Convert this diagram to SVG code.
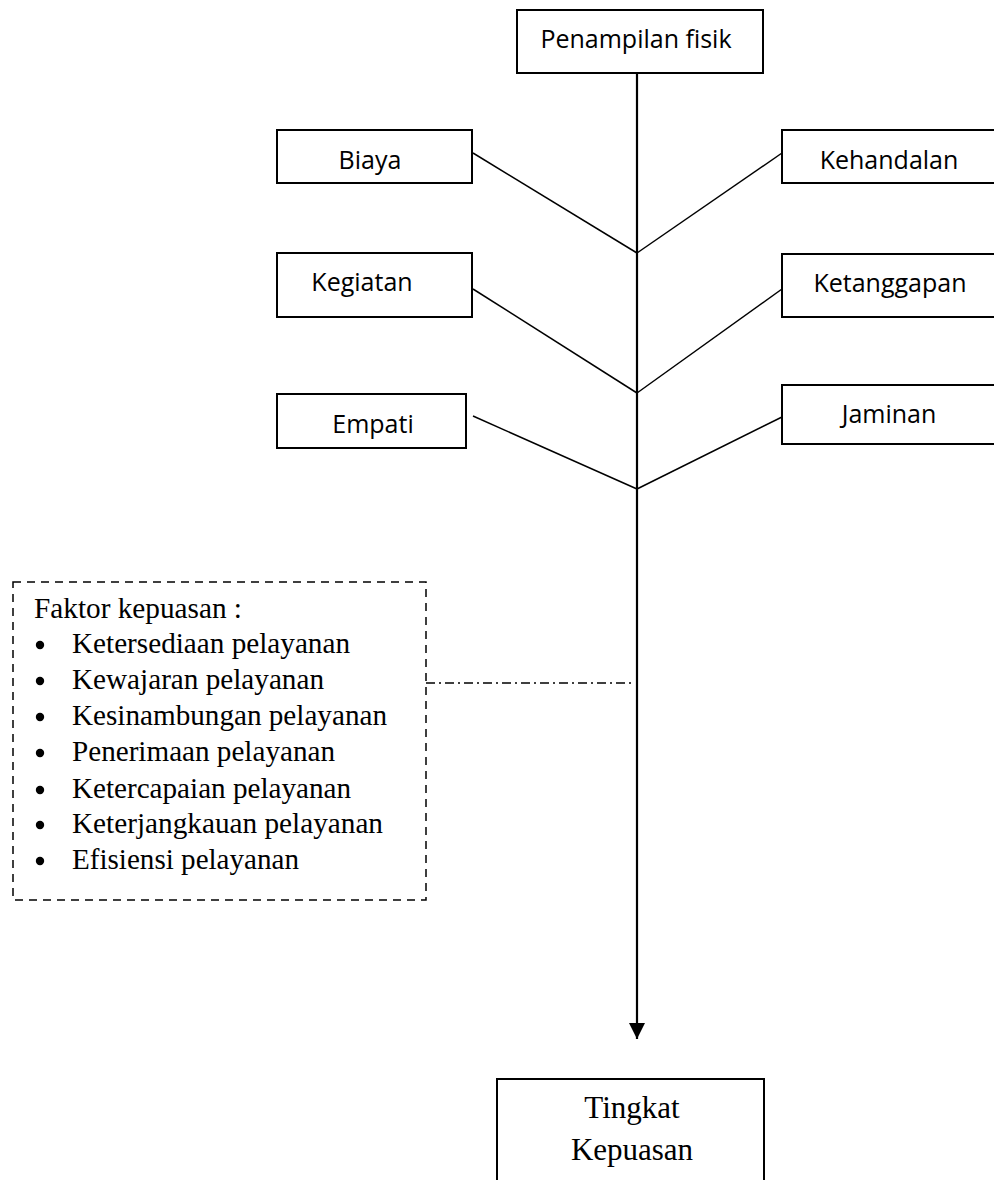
<svg xmlns="http://www.w3.org/2000/svg" width="994" height="1180" viewBox="0 0 994 1180">
<style>
.box{fill:#fff;stroke:#000;stroke-width:2}
.sans{font-family:"Open Sans","Liberation Sans",sans-serif;font-size:25px;fill:#000}
.serif{font-family:"Liberation Serif","Times New Roman",serif;font-size:29px;fill:#000}
.ln{stroke:#000;stroke-width:1.5;fill:none}
</style>
<defs>
<marker id="arr" viewBox="0 0 16 16" refX="16" refY="8" markerWidth="16" markerHeight="16" markerUnits="userSpaceOnUse" orient="auto">
<path d="M0,0 L16,8 L0,16 Z" fill="#000"/>
</marker>
</defs>
<rect width="994" height="1180" fill="#fff"/>
<g id="connectors">
<line x1="637" y1="73" x2="637" y2="1039" stroke="#000" stroke-width="2.2" marker-end="url(#arr)"/>
<line class="ln" x1="473" y1="153" x2="637" y2="253"/>
<line class="ln" x1="782" y1="153" x2="637" y2="253"/>
<line class="ln" x1="473" y1="289" x2="637" y2="393"/>
<line class="ln" x1="782" y1="289" x2="637" y2="393"/>
<line class="ln" x1="473" y1="416" x2="637" y2="489"/>
<line class="ln" x1="782" y1="417" x2="637" y2="489"/>
<line class="ln" x1="426" y1="683" x2="632" y2="683" stroke-dasharray="9 4 2 4"/>
</g>
<g id="penampilan">
<rect class="box" x="517" y="10" width="246" height="63"/>
<text class="sans" x="636" y="48" text-anchor="middle">Penampilan fisik</text>
</g>
<g id="biaya">
<rect class="box" x="277" y="130" width="195" height="53"/>
<text class="sans" x="370" y="169" text-anchor="middle">Biaya</text>
</g>
<g id="kehandalan">
<rect class="box" x="782" y="130" width="220" height="53"/>
<text class="sans" x="889" y="169" text-anchor="middle">Kehandalan</text>
</g>
<g id="kegiatan">
<rect class="box" x="277" y="253" width="195" height="64"/>
<text class="sans" x="362" y="291" text-anchor="middle">Kegiatan</text>
</g>
<g id="ketanggapan">
<rect class="box" x="782" y="254" width="220" height="63"/>
<text class="sans" x="890" y="292" text-anchor="middle">Ketanggapan</text>
</g>
<g id="empati">
<rect class="box" x="277" y="394" width="189" height="54"/>
<text class="sans" x="373" y="433" text-anchor="middle">Empati</text>
</g>
<g id="jaminan">
<rect class="box" x="782" y="385" width="220" height="59"/>
<text class="sans" x="889" y="423" text-anchor="middle">Jaminan</text>
</g>
<g id="faktor">
<rect x="13" y="582" width="413" height="318" fill="none" stroke="#000" stroke-width="1.5" stroke-dasharray="8 6"/>
<text class="serif" x="34" y="618" textLength="208" lengthAdjust="spacingAndGlyphs">Faktor kepuasan :</text>
<g fill="#000">
<circle cx="40" cy="645" r="4.2"/>
<circle cx="40" cy="681" r="4.2"/>
<circle cx="40" cy="717" r="4.2"/>
<circle cx="40" cy="753" r="4.2"/>
<circle cx="40" cy="790" r="4.2"/>
<circle cx="40" cy="825" r="4.2"/>
<circle cx="40" cy="861" r="4.2"/>
</g>
<text class="serif" x="72" y="653" textLength="278" lengthAdjust="spacingAndGlyphs">Ketersediaan pelayanan</text>
<text class="serif" x="72" y="689" textLength="252" lengthAdjust="spacingAndGlyphs">Kewajaran pelayanan</text>
<text class="serif" x="72" y="725" textLength="315" lengthAdjust="spacingAndGlyphs">Kesinambungan pelayanan</text>
<text class="serif" x="72" y="761" textLength="263" lengthAdjust="spacingAndGlyphs">Penerimaan pelayanan</text>
<text class="serif" x="72" y="798" textLength="279" lengthAdjust="spacingAndGlyphs">Ketercapaian pelayanan</text>
<text class="serif" x="72" y="833" textLength="311" lengthAdjust="spacingAndGlyphs">Keterjangkauan pelayanan</text>
<text class="serif" x="72" y="869" textLength="227" lengthAdjust="spacingAndGlyphs">Efisiensi pelayanan</text>
</g>
<g id="tingkat">
<rect class="box" x="497" y="1079" width="267" height="110"/>
<text class="serif" x="632" y="1118" text-anchor="middle" style="font-size:31px">Tingkat</text>
<text class="serif" x="632" y="1160" text-anchor="middle" style="font-size:31px">Kepuasan</text>
</g>
</svg>
